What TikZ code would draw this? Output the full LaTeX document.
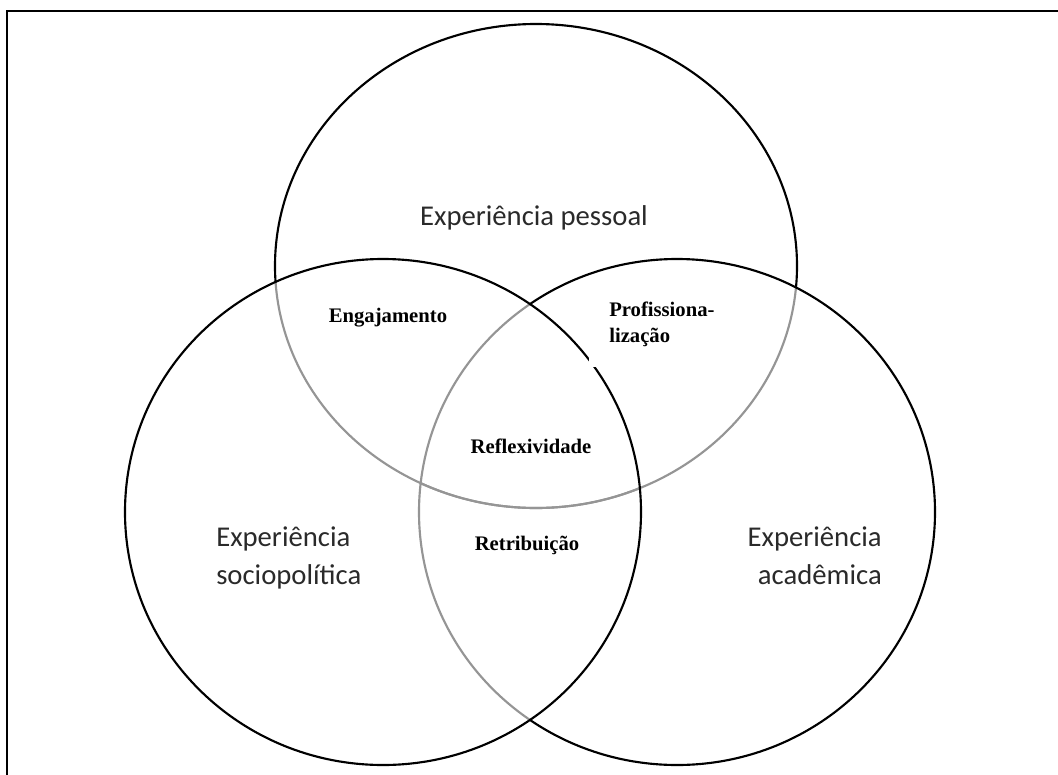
\documentclass[tikz,border=0pt]{standalone}
\usepackage{fontspec}
\setmainfont{Liberation Serif}
\newfontfamily\calib{Carlito}
\definecolor{softgray}{HTML}{959595}
\definecolor{labelgray}{HTML}{2A2A2A}
\tikzset{
  ring/.style={line width=1.6pt, draw=black},
  ringsoft/.style={line width=1.6pt, draw=softgray},
  biglabel/.style={font=\calib\fontsize{21.5}{28}\selectfont, text=labelgray, inner sep=0pt},
  boldlabel/.style={font=\bfseries\fontsize{15.5}{19.5}\selectfont, text=black, inner sep=0pt},
  frameline/.style={line width=2pt, draw=black},
  topshape/.style={x radius=261, y radius=242},
  leftshape/.style={x radius=258, y radius=253},
  rightshape/.style={x radius=258, y radius=253},
}
\begin{document}
\begin{tikzpicture}[x=0.75pt,y=-0.75pt]
\useasboundingbox (0,0) rectangle (1058,775);
\fill[white] (0,0) rectangle (1058,775);
% frame (only top and left edges visible)
\coordinate (fbl) at (7,775);
\coordinate (ftl) at (7,11);
\coordinate (ftr) at (1058,11);
\draw[frameline] (fbl) -- (ftl) -- (ftr);
% centres
\coordinate (T) at (536,266);
\coordinate (L) at (383,512);
\coordinate (R) at (677,512);
% top circle: black outside the other two, gray inside them
\begin{scope}[even odd rule]
  \clip (-20,-20) rectangle (1100,800) (L) ellipse [leftshape];
  \clip (-20,-20) rectangle (1100,800) (R) ellipse [rightshape];
  \draw[ring] (T) ellipse [topshape];
\end{scope}
\begin{scope}
  \clip (L) ellipse [leftshape];
  \draw[ringsoft] (T) ellipse [topshape];
\end{scope}
\begin{scope}
  \clip (R) ellipse [rightshape];
  \draw[ringsoft] (T) ellipse [topshape];
\end{scope}
% right circle: gray inside left circle
\begin{scope}[even odd rule]
  \clip (-20,-20) rectangle (1100,800) (L) ellipse [leftshape];
  \draw[ring] (R) ellipse [rightshape];
\end{scope}
\begin{scope}
  \clip (L) ellipse [leftshape];
  \draw[ringsoft] (R) ellipse [rightshape];
\end{scope}
% left circle
\draw[ring] (L) ellipse [leftshape];
% labels
\node[biglabel] (pessoal) at (534,218) {Experiência pessoal};
\node[biglabel, align=left, anchor=north west] (socio) at (216,527) {Experiência\\sociopolítica};
\node[biglabel, align=right, anchor=north east] (acad) at (882,527) {Experiência\\acadêmica};
\node[boldlabel] (engaj) at (388,318) {Engajamento};
\node[boldlabel, align=left, anchor=north west, fill=white, inner sep=15pt] (prof) at (589,282) {Profissiona-\\lização};
\node[boldlabel] (reflex) at (531,446) {Reflexividade};
\node[boldlabel] (retrib) at (527,545) {Retribuição};
\end{tikzpicture}
\end{document}
